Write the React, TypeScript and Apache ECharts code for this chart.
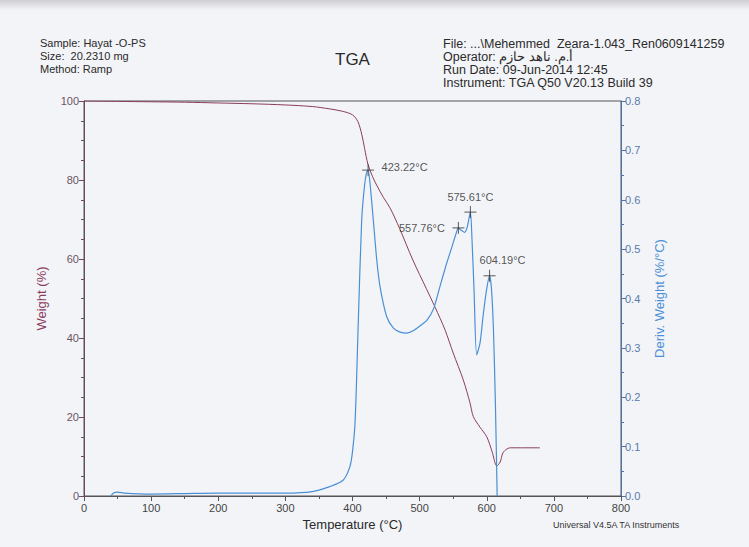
import React, { useEffect, useRef } from "react";
import * as echarts from "echarts";

// Weight curve (%), temperature in °C
const weightTemp = [0, 50, 100, 150, 200, 250, 300, 340, 366, 385, 400, 408, 414, 418, 423, 430, 436, 446, 456, 470, 490, 510, 523, 538, 550, 565, 575, 580, 590, 600, 608, 615, 620, 624, 630, 635, 650, 679];
const weightVals = [100, 99.9, 99.8, 99.7, 99.5, 99.3, 99.0, 98.6, 98.0, 97.4, 96.5, 94.8, 91.4, 88.0, 84.0, 80.8, 78.7, 75.6, 72.9, 67.8, 59.7, 52.5, 47.8, 42.0, 36.2, 29.4, 23.6, 20.1, 17.4, 15.0, 11.2, 7.6, 8.6, 10.9, 11.9, 12.2, 12.2, 12.2];

// Derivative weight curve (%/°C)
const dtgTemp = [40, 44, 50, 60, 100, 150, 200, 250, 300, 340, 366, 386, 396, 400, 404, 408.7, 413.7, 418, 421, 423.22, 426, 431, 436, 441, 451, 461, 471, 481, 491, 501, 511, 521, 530, 540, 548, 554, 557.76, 562, 567, 571, 575.61, 578, 581, 585, 590, 595, 600, 604.19, 607, 610, 613, 615.5];
const dtgVals = [0.0, 0.006, 0.008, 0.006, 0.004, 0.005, 0.006, 0.006, 0.006, 0.009, 0.019, 0.032, 0.059, 0.09, 0.154, 0.356, 0.559, 0.63, 0.655, 0.66, 0.635, 0.559, 0.48, 0.424, 0.363, 0.34, 0.332, 0.33, 0.335, 0.345, 0.356, 0.38, 0.423, 0.47, 0.504, 0.53, 0.543, 0.538, 0.534, 0.545, 0.575, 0.52, 0.42, 0.286, 0.31, 0.37, 0.42, 0.446, 0.42, 0.336, 0.18, 0.0];

// Peak annotations
const peakTemps = [423.22, 557.76, 575.61, 604.19];
const peakVals = [0.66, 0.543, 0.575, 0.446];
const peakLabels = ["423.22°C", "557.76°C", "575.61°C", "604.19°C"];

const xTicks = [0, 100, 200, 300, 400, 500, 600, 700, 800];

const headerLeft = ["Sample: Hayat -O-PS", "Size:  20.2310 mg", "Method: Ramp"];
const headerRight = [
  "File: ...\\Mehemmed  Zeara-1.043_Ren0609141259",
  "Operator: أ.م. ناهد حازم",
  "Run Date: 09-Jun-2014 12:45",
  "Instrument: TGA Q50 V20.13 Build 39",
];

const FONT = "'Liberation Sans', Arial, sans-serif";
const WEIGHT_COLOR = "#8a3c5e";
const DTG_COLOR = "#4a8fd6";

export default function App() {
  const ref = useRef<HTMLDivElement>(null);
  useEffect(() => {
    if (!ref.current) return;
    const chart = echarts.init(ref.current, undefined, { renderer: "svg" });

    const labelPos: any[] = [
      { position: "right", offset: [0, -3] },
      { position: "left", offset: [0, 0] },
      { position: "top", offset: [0, 4] },
      { position: "top", offset: [13, 3] },
    ];

    const graphics: any[] = [
      {
        type: "rect",
        shape: { x: 0, y: 0, width: 749, height: 10 },
        style: {
          fill: new echarts.graphic.LinearGradient(0, 0, 0, 1, [
            { offset: 0, color: "#cfcfd2" },
            { offset: 1, color: "#f3f4f8" },
          ]),
        },
        silent: true,
      },
      ...headerLeft.map((t, i) => ({
        type: "text",
        left: 40,
        top: 37 + i * 13,
        style: { text: t, fontSize: 11, fill: "#2a2a2a", fontFamily: FONT },
      })),
      {
        type: "text",
        left: 335,
        top: 51,
        style: { text: "TGA", fontSize: 17, fill: "#2a2a2a", fontFamily: FONT },
      },
      ...headerRight.map((t, i) => ({
        type: "text",
        left: 443,
        top: 37 + i * 13,
        style: { text: t, fontSize: 12.5, fill: "#2a2a2a", fontFamily: FONT },
      })),
      {
        type: "text",
        left: 553,
        top: 520,
        style: { text: "Universal V4.5A TA Instruments", fontSize: 9, fill: "#333", fontFamily: FONT },
      },
    ];

    chart.setOption({
      animation: false,
      backgroundColor: "#f3f4f8",
      textStyle: { fontFamily: FONT },
      grid: {
        left: 84,
        right: 128,
        top: 101,
        bottom: 51,
        show: true,
        borderColor: "#555",
        borderWidth: 1,
      },
      graphic: graphics,
      xAxis: {
        type: "value",
        min: xTicks[0],
        max: xTicks[xTicks.length - 1],
        interval: 100,
        name: "Temperature (°C)",
        nameLocation: "middle",
        nameGap: 22,
        nameTextStyle: { fontSize: 13, color: "#2a2a2a" },
        axisLine: { show: true, lineStyle: { color: "#555" } },
        axisTick: { show: true, length: 5, lineStyle: { color: "#555" } },
        minorTick: { show: true, splitNumber: 2, length: 3, lineStyle: { color: "#555" } },
        axisLabel: { fontSize: 11, color: "#444", margin: 6 },
        splitLine: { show: false },
      },
      yAxis: [
        {
          type: "value",
          min: 0,
          max: 100,
          interval: 20,
          name: "Weight (%)",
          nameLocation: "middle",
          nameGap: 36,
          nameTextStyle: { fontSize: 13, color: WEIGHT_COLOR },
          axisLine: { show: true, lineStyle: { color: "#6b4a62" } },
          axisTick: { show: true, length: 5, lineStyle: { color: "#6b4a62" } },
          minorTick: { show: true, splitNumber: 4, length: 3, lineStyle: { color: "#6b4a62" } },
          axisLabel: { fontSize: 11, color: "#6b5563", margin: 5 },
          splitLine: { show: false },
        },
        {
          type: "value",
          min: 0,
          max: 0.8,
          interval: 0.1,
          position: "right",
          name: "Deriv. Weight (%/°C)",
          nameLocation: "middle",
          nameGap: 32,
          nameRotate: 90,
          nameTextStyle: { fontSize: 13, color: DTG_COLOR },
          axisLine: { show: true, lineStyle: { color: "#4a74b0" } },
          axisTick: { show: true, length: 5, lineStyle: { color: "#4a74b0" } },
          minorTick: { show: true, splitNumber: 2, length: 3, lineStyle: { color: "#4a74b0" } },
          axisLabel: {
            fontSize: 11,
            color: "#5a7aa8",
            margin: 4,
            formatter: (v: number) => v.toFixed(1),
          },
          splitLine: { show: false },
        },
      ],
      series: [
        {
          type: "line",
          name: "Weight",
          yAxisIndex: 0,
          data: weightTemp.map((t, i) => [t, weightVals[i]]),
          smooth: 0.3,
          showSymbol: false,
          lineStyle: { color: WEIGHT_COLOR, width: 1 },
          z: 3,
        },
        {
          type: "line",
          name: "Deriv. Weight",
          yAxisIndex: 1,
          data: dtgTemp.map((t, i) => [t, dtgVals[i]]),
          smooth: 0.25,
          showSymbol: false,
          lineStyle: { color: DTG_COLOR, width: 1.2 },
          z: 4,
        },
        {
          type: "scatter",
          name: "Peaks",
          yAxisIndex: 1,
          symbol: "path://M0,6 L12,6 M6,0 L6,12",
          symbolSize: 12,
          itemStyle: { color: "none", borderColor: "#333", borderWidth: 1 },
          data: peakTemps.map((t, i) => ({
            value: [t, peakVals[i]],
            label: {
              show: true,
              formatter: peakLabels[i],
              fontSize: 11,
              color: "#2a2a2a",
              ...labelPos[i],
            },
          })),
          z: 5,
        },
      ],
    });
    return () => chart.dispose();
  }, []);

  return (
    <div
      ref={ref}
      style={{ position: "fixed", left: 0, top: 0, width: 749, height: 547 }}
    />
  );
}
